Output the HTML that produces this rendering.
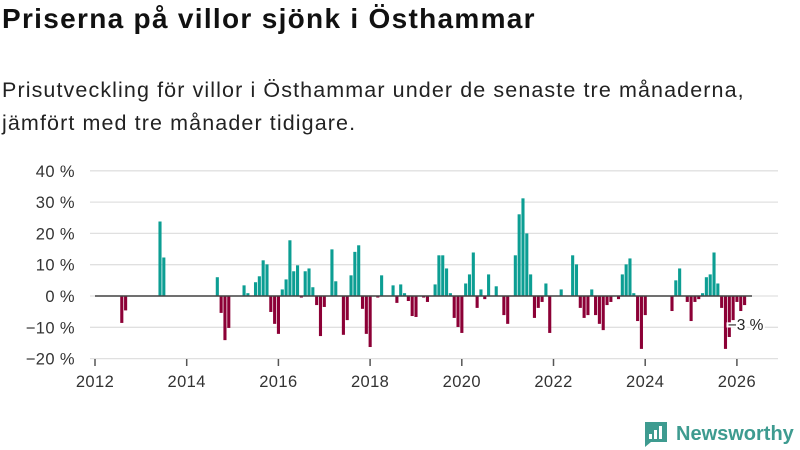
<!DOCTYPE html>
<html><head><meta charset="utf-8">
<style>
body{margin:0;background:#fff;font-family:"Liberation Sans","DejaVu Sans",sans-serif;}
#wrap{position:relative;width:800px;height:450px;overflow:hidden;}
h1{position:absolute;left:2px;top:3px;margin:0;font-size:28px;font-weight:bold;color:#111;letter-spacing:1.3px;white-space:nowrap;}
.sub{position:absolute;left:2px;top:74px;margin:0;font-size:21.5px;line-height:33px;color:#222;letter-spacing:1.1px;white-space:nowrap;}
svg{position:absolute;left:0;top:0;}
</style></head><body>
<div id="wrap">
<h1>Priserna på villor sjönk i Östhammar</h1>
<p class="sub">Prisutveckling för villor i Östhammar under de senaste tre månaderna,<br>jämfört med tre månader tidigare.</p>
<svg id="chart" width="800" height="450"></svg>
</div>
<script>
const months = ["2012-08","2012-09","2013-06","2013-07","2014-09","2014-10","2014-11","2014-12","2015-04","2015-05","2015-07","2015-08","2015-09","2015-10","2015-11","2015-12","2016-01","2016-02","2016-03","2016-04","2016-05","2016-06","2016-07","2016-08","2016-09","2016-10","2016-11","2016-12","2017-01","2017-03","2017-04","2017-06","2017-07","2017-08","2017-09","2017-10","2017-11","2017-12","2018-01","2018-03","2018-04","2018-07","2018-08","2018-09","2018-10","2018-11","2018-12","2019-01","2019-03","2019-04","2019-06","2019-07","2019-08","2019-09","2019-10","2019-11","2019-12","2020-01","2020-02","2020-03","2020-04","2020-05","2020-06","2020-07","2020-08","2020-10","2020-12","2021-01","2021-03","2021-04","2021-05","2021-06","2021-07","2021-08","2021-09","2021-10","2021-11","2021-12","2022-03","2022-06","2022-07","2022-08","2022-09","2022-10","2022-11","2022-12","2023-01","2023-02","2023-03","2023-04","2023-06","2023-07","2023-08","2023-09","2023-10","2023-11","2023-12","2024-01","2024-08","2024-09","2024-10","2024-12","2025-01","2025-02","2025-03","2025-04","2025-05","2025-06","2025-07","2025-08","2025-09","2025-10","2025-11","2025-12","2026-01","2026-02","2026-03"];
const values = [-8.6,-4.6,23.8,12.3,6.0,-5.4,-14.1,-10.2,3.4,0.9,4.4,6.3,11.4,10.1,-5.1,-8.9,-12.1,2.1,5.3,17.8,7.9,9.8,-0.5,7.9,8.8,2.8,-2.9,-12.8,-3.5,14.9,4.7,-12.4,-7.7,6.6,14.1,16.2,-4.1,-12.1,-16.3,-0.5,6.6,3.4,-2.2,3.7,0.9,-1.6,-6.4,-6.7,-0.5,-1.9,3.7,13,13,8.8,0.9,-7.0,-9.9,-11.8,4.0,6.9,13.9,-3.8,2.1,-1.0,6.9,3.1,-6.1,-8.9,13,26.1,31.2,20,6.9,-7.0,-3.8,-1.9,4.0,-11.8,2.1,13,10.1,-3.8,-7.0,-6.1,2.1,-6.1,-8.9,-10.9,-2.9,-1.9,-1.0,6.9,10.1,12,0.9,-8.0,-16.9,-6.1,-4.8,5.0,8.8,-1.9,-8.0,-1.9,-1.0,0.9,6.0,6.9,13.9,4.0,-3.8,-16.9,-13.1,-7.7,-1.9,-4.8,-2.9];
const yTicks = [40,30,20,10,0,-10,-20];
const yTickLabels = ["40 %","30 %","20 %","10 %","0 %","−10 %","−20 %"];
const xTicks = [2012,2014,2016,2018,2020,2022,2024,2026];
const lastLabel = "−3 %";

const NS="http://www.w3.org/2000/svg";
const svg=document.getElementById('chart');
const y0=296, pxPer=3.13;
function yScale(v){return y0 - v*pxPer;}
function xScale(yearFrac){return 95 + (yearFrac-2012)*45.85;}
function monthToYear(s){const p=s.split('-');return +p[0]+(+p[1]-1)/12;}
function mk(tag,attrs){const e=document.createElementNS(NS,tag);for(const k in attrs)e.setAttribute(k,attrs[k]);svg.appendChild(e);return e;}

yTicks.forEach((t,i)=>{
  const g=mk('line',{x1:90,x2:778,y1:yScale(t),y2:yScale(t),stroke:'#e0e0e0','stroke-width':1.3});
  
  
  const tx=mk('text',{x:75,y:yScale(t)+6,'text-anchor':'end','font-size':16.5,fill:'#333','letter-spacing':0.4});
  tx.textContent=yTickLabels[i];
  
  
});
xTicks.forEach(t=>{
  const x=xScale(t);
  const l=mk('line',{x1:x,x2:x,y1:359,y2:366,stroke:'#555','stroke-width':1.5});
  
  
  const tx=mk('text',{x:x,y:387,'text-anchor':'middle','font-size':16.5,fill:'#333','letter-spacing':0.4});
  tx.textContent=t;
  
  
});
months.forEach((m,i)=>{
  const v=values[i];
  const x=xScale(monthToYear(m));
  const y=Math.min(yScale(v),y0), h=Math.abs(yScale(v)-y0);
  const r=mk('rect',{x:x-1.5,y:y,width:3.1,height:Math.max(h,0.5),fill:v>=0?'#0c9e93':'#8c0036'});
  
  
});
const zl=mk('line',{x1:95,x2:752,y1:y0,y2:y0,stroke:'#444','stroke-width':1.5});


const lastX=xScale(monthToYear(months[months.length-1]));
const lb=mk('text',{x:lastX+1,y:330,'text-anchor':'middle','font-size':15.5,fill:'#222',stroke:'#fff','stroke-width':4,'paint-order':'stroke'});
lb.textContent=lastLabel;



const lg=mk('g',{});


const bg=document.createElementNS(NS,'path');
bg.setAttribute('d','M645 422 h22 v20 h-16 l-6 5 z');bg.setAttribute('fill','#3e9b90');lg.appendChild(bg);
[[649,434,3,5],[654,430,3,9],[659,426,3,13]].forEach(b=>{const r=document.createElementNS(NS,'rect');r.setAttribute('x',b[0]);r.setAttribute('y',b[1]);r.setAttribute('width',b[2]);r.setAttribute('height',b[3]);r.setAttribute('fill','#fff');lg.appendChild(r);});
const lt=document.createElementNS(NS,'text');
lt.setAttribute('x',676);lt.setAttribute('y',440);lt.setAttribute('font-size',20);lt.setAttribute('font-weight','bold');lt.setAttribute('fill','#3e9b90');
lt.textContent='Newsworthy';lg.appendChild(lt);
</script>
</body></html>
